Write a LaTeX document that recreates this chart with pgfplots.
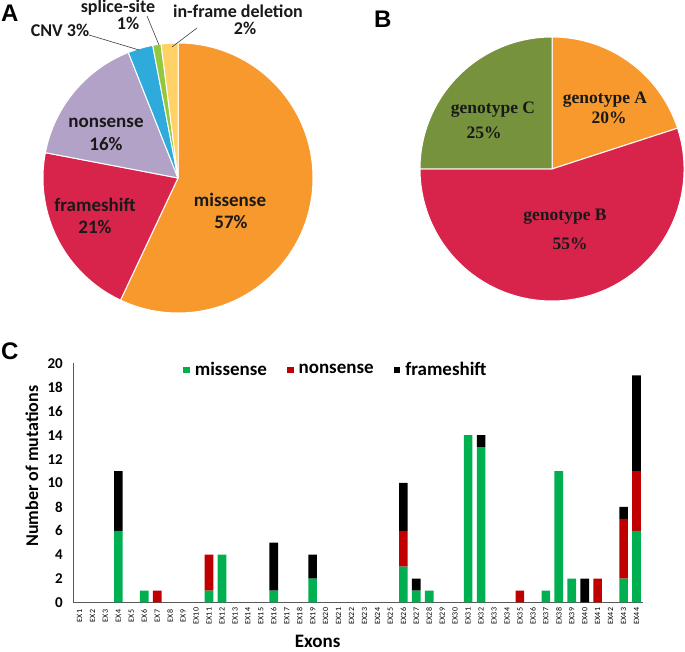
\documentclass[border=0pt]{standalone}
\usepackage{pgfplots}
\pgfplotsset{compat=1.18}
\usepackage{pgfplotstable}
\usepackage{fontspec}
\setmainfont{Carlito}
\newfontfamily\serifb{Liberation Serif}
\newfontfamily\arial{Liberation Sans}

\definecolor{cOrange}{HTML}{F7992D}
\definecolor{cCrimson}{HTML}{D8244B}
\definecolor{cLav}{HTML}{B3A2C7}
\definecolor{cBlue}{HTML}{2EABDA}
\definecolor{cLime}{HTML}{92C83E}
\definecolor{cYellow}{HTML}{FFD166}
\definecolor{cOlive}{HTML}{76923C}
\definecolor{cMis}{RGB}{0,176,80}
\definecolor{cNon}{RGB}{192,0,0}

% pie slice: #1 start (percent), #2 share (percent), #3 colour, #4 radius
\newcommand{\slice}[4]{%
  \fill[#3, draw=white, line width=1pt] (axis cs:0,0) -- ++({90-3.6*(#1)}:#4)
    arc[start angle={90-3.6*(#1)}, end angle={90-3.6*(#1+#2)}, radius=#4] -- cycle;}

\pgfplotstableread{
x mis non fra
1 0 0 0
2 0 0 0
3 0 0 0
4 6 0 5
5 0 0 0
6 1 0 0
7 0 1 0
8 0 0 0
9 0 0 0
10 0 0 0
11 1 3 0
12 4 0 0
13 0 0 0
14 0 0 0
15 0 0 0
16 1 0 4
17 0 0 0
18 0 0 0
19 2 0 2
20 0 0 0
21 0 0 0
22 0 0 0
23 0 0 0
24 0 0 0
25 0 0 0
26 3 3 4
27 1 0 1
28 1 0 0
29 0 0 0
30 0 0 0
31 14 0 0
32 13 0 1
33 0 0 0
34 0 0 0
35 0 1 0
36 0 0 0
37 1 0 0
38 11 0 0
39 2 0 0
40 0 0 2
41 0 2 0
42 0 0 0
43 2 5 1
44 6 5 8
}\exons

\begin{document}
\begin{tikzpicture}
\path[use as bounding box] (0,0) rectangle (685pt,652pt);

% ------------------------------------------------------------ (A) mutation types
\begin{axis}[at={(178pt,474pt)}, anchor=center, scale only axis,
  width=270pt, height=270pt, xmin=-1, xmax=1, ymin=-1, ymax=1,
  hide axis, clip=false]
  \slice{0}{57}{cOrange}{135pt}
  \slice{57}{21}{cCrimson}{135pt}
  \slice{78}{16}{cLav}{135pt}
  \slice{94}{3}{cBlue}{135pt}
  \slice{97}{1}{cLime}{135pt}
  \slice{98}{2}{cYellow}{135pt}
\end{axis}
\begin{scope}[every node/.style={font=\fontsize{19}{22}\selectfont\bfseries, text=black!90, inner sep=0pt}]
  \node[anchor=base] at (230pt,445pt) {missense};
  \node[anchor=base] at (231pt,423pt) {57\%};
  \node[anchor=base] at (95pt,440pt) {frameshift};
  \node[anchor=base] at (95pt,418pt) {21\%};
  \node[anchor=base] at (106pt,524pt) {nonsense};
  \node[anchor=base] at (106pt,501pt) {16\%};
\end{scope}
\begin{scope}[every node/.style={font=\fontsize{18}{18}\selectfont\bfseries, text=black!90, inner sep=0pt}]
  \node[anchor=base] at (60pt,615pt) {CNV 3\%};
  \node[anchor=base] at (118pt,639pt) {splice-site};
  \node[anchor=base] at (128pt,622pt) {1\%};
  \node[anchor=base] at (238pt,634pt) {in-frame deletion};
  \node[anchor=base] at (245pt,617pt) {2\%};
\end{scope}
\draw[black!75, line width=0.6pt] (89pt,617pt) -- (139pt,602pt);
\draw[black!75, line width=0.6pt] (147pt,636pt) -- (159pt,607pt);
\draw[black!75, line width=0.6pt] (197pt,624pt) -- (172pt,605pt);
\node[anchor=base west, inner sep=0pt, font=\arial\bfseries\fontsize{24}{24}\selectfont] at (1pt,630pt) {A};

% ------------------------------------------------------------ (B) genotypes
\begin{axis}[at={(552pt,483pt)}, anchor=center, scale only axis,
  width=264pt, height=264pt, xmin=-1, xmax=1, ymin=-1, ymax=1,
  hide axis, clip=false]
  \slice{0}{20}{cOrange}{132pt}
  \slice{20}{55}{cCrimson}{132pt}
  \slice{75}{25}{cOlive}{132pt}
\end{axis}
\begin{scope}[every node/.style={font=\serifb\bfseries\fontsize{17.5}{20}\selectfont, text=black!90, inner sep=0pt}]
  \node[anchor=base] at (605pt,548pt) {genotype A};
  \node[anchor=base] at (609pt,528pt) {20\%};
  \node[anchor=base] at (493pt,538pt) {genotype C};
  \node[anchor=base] at (484pt,513pt) {25\%};
  \node[anchor=base] at (565pt,431pt) {genotype B};
  \node[anchor=base] at (570pt,402pt) {55\%};
\end{scope}
\node[anchor=base west, inner sep=0pt, font=\arial\bfseries\fontsize{24}{24}\selectfont] at (374pt,624pt) {B};

% ------------------------------------------------------------ (C) exons
\node[anchor=base west, inner sep=0pt, font=\arial\bfseries\fontsize{24}{24}\selectfont] at (1pt,292pt) {C};
\begin{axis}[at={(73pt,49.5pt)}, anchor=south west, scale only axis,
  width=570pt, height=239pt,
  ybar stacked, bar width=8.6pt,
  xmin=0.5, xmax=44.5, ymin=0, ymax=20,
  xtick={1,...,44}, ytick={0,2,...,20},
  xticklabels={EX1,EX2,EX3,EX4,EX5,EX6,EX7,EX8,EX9,EX10,EX11,EX12,EX13,EX14,EX15,
    EX16,EX17,EX18,EX19,EX20,EX21,EX22,EX23,EX24,EX25,EX26,EX27,EX28,EX29,EX30,
    EX31,EX32,EX33,EX34,EX35,EX36,EX37,EX38,EX39,EX40,EX41,EX42,EX43,EX44},
  axis x line=bottom, axis y line=left,
  axis line style={-, black!65, line width=1pt},
  major tick length=0pt,
  xticklabel style={font=\fontsize{8}{8}\selectfont, text=black, anchor=center, yshift=-13.5pt, rotate=90},
  yticklabel style={font=\fontsize{15}{15}\selectfont\bfseries, inner sep=0pt, xshift=-10pt,
    /pgf/number format/assume math mode=true},
  xlabel={Exons}, ylabel={Number of mutations},
  xlabel style={font=\fontsize{19}{19}\selectfont\bfseries, at={(axis description cs:0.429,0)}, anchor=base, yshift=-45pt},
  ylabel style={font=\fontsize{18}{18}\selectfont\bfseries, at={(axis description cs:0,0.57)}, anchor=base, yshift=35pt},
  legend columns=3,
  legend style={at={(rel axis cs:0.193,0.973)}, anchor=west, draw=none, fill=none, inner sep=0pt,
    font=\fontsize{19}{19}\selectfont\bfseries,
    /tikz/every odd column/.append style={column sep=3pt},
    /tikz/every even column/.append style={column sep=18pt}},
  legend image code/.code={\fill[#1] (0pt,-3.3pt) rectangle (6.6pt,3.3pt);},
]
  \addplot[fill=cMis, draw=none] table[x=x, y=mis] {\exons};
  \addplot[fill=cNon, draw=none] table[x=x, y=non] {\exons};
  \addplot[fill=black, draw=none] table[x=x, y=fra] {\exons};
  \legend{missense, nonsense, frameshift}
\end{axis}
\end{tikzpicture}
\end{document}
